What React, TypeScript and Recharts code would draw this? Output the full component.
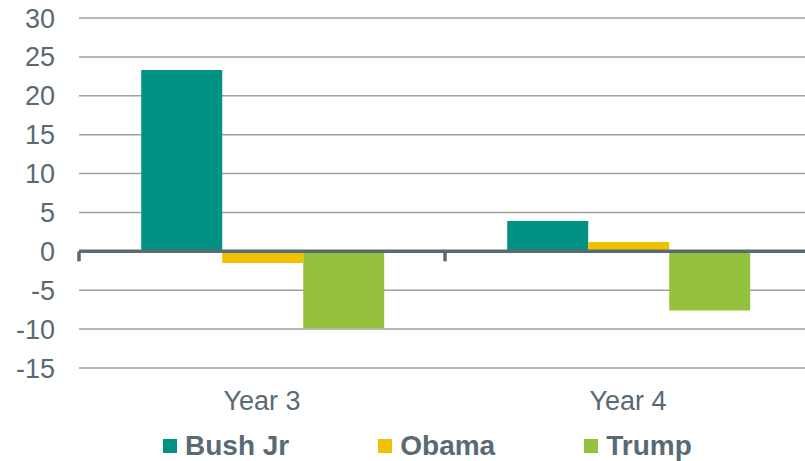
import {
  Bar,
  BarChart,
  CartesianGrid,
  Legend,
  ReferenceLine,
  XAxis,
  YAxis
} from "recharts";

const years = ["Year 3", "Year 4"];
const bushJr = [23.3, 3.9];
const obama = [-1.5, 1.2];
const trump = [-9.9, -7.6];
const yTicks = [-15, -10, -5, 0, 5, 10, 15, 20, 25, 30];

const seriesList = [
  { key: "bushJr", name: "Bush Jr", color: "#009384" },
  { key: "obama", name: "Obama", color: "#F2C100" },
  { key: "trump", name: "Trump", color: "#95C23D" }
];

const chartData = years.map((year, i) => ({
  year,
  bushJr: bushJr[i],
  obama: obama[i],
  trump: trump[i]
}));

const textColor = "#5a6a73";
const fontFamily = "'Liberation Sans', Arial, sans-serif";

// zero axis line with tick marks at category boundaries, like Excel draws it
function ZeroAxis(props: any) {
  const { x1, y1, x2 } = props;
  const step = (x2 - x1) / years.length;
  const marks = [];
  for (let i = 0; i <= years.length; i++) {
    const x = x1 + i * step;
    marks.push(
      <line key={i} x1={x} y1={y1} x2={x} y2={y1 + 10} stroke={textColor} strokeWidth={3.5} />
    );
  }
  return (
    <g>
      <line x1={x1} y1={y1} x2={x2} y2={y1} stroke={textColor} strokeWidth={3.5} />
      {marks}
    </g>
  );
}

function LegendContent() {
  return (
    <div
      style={{
        display: "flex",
        height: 43,
        boxSizing: "border-box",
        paddingTop: 12,
        paddingLeft: 163,
        gap: 89,
        fontFamily,
        fontWeight: "bold",
        fontSize: 28,
        lineHeight: "28px",
        color: textColor
      }}
    >
      {seriesList.map((s) => (
        <div key={s.key} style={{ display: "flex", alignItems: "center", gap: 8 }}>
          <span style={{ width: 14, height: 14, background: s.color, display: "inline-block" }} />
          <span>{s.name}</span>
        </div>
      ))}
    </div>
  );
}

export default function App() {
  return (
    <div
      style={{
        position: "absolute",
        left: 0,
        top: 0,
        width: 805,
        height: 461,
        overflow: "hidden",
        background: "#fff"
      }}
    >
      <BarChart
        width={811}
        height={461}
        data={chartData}
        margin={{ top: 18, right: 0, left: 0, bottom: 0 }}
        barCategoryGap="17%"
        barGap={0}
      >
        <CartesianGrid vertical={false} stroke="#a0a0a0" strokeWidth={1.5} />
        <XAxis
          dataKey="year"
          axisLine={false}
          tickLine={false}
          height={50}
          tickMargin={17}
          tick={{ fill: textColor, fontSize: 27, fontFamily }}
        />
        <YAxis
          width={79}
          domain={[-15, 30]}
          ticks={yTicks}
          axisLine={false}
          tickLine={false}
          tickMargin={18}
          tick={{ fill: textColor, fontSize: 27, fontFamily }}
        />
        {seriesList.map((s) => (
          <Bar
            key={s.key}
            dataKey={s.key}
            name={s.name}
            fill={s.color}
            isAnimationActive={false}
          />
        ))}
        <ReferenceLine y={0} shape={ZeroAxis} />
        <Legend verticalAlign="bottom" content={LegendContent} wrapperStyle={{ left: 0, width: 811 }} />
      </BarChart>
    </div>
  );
}
